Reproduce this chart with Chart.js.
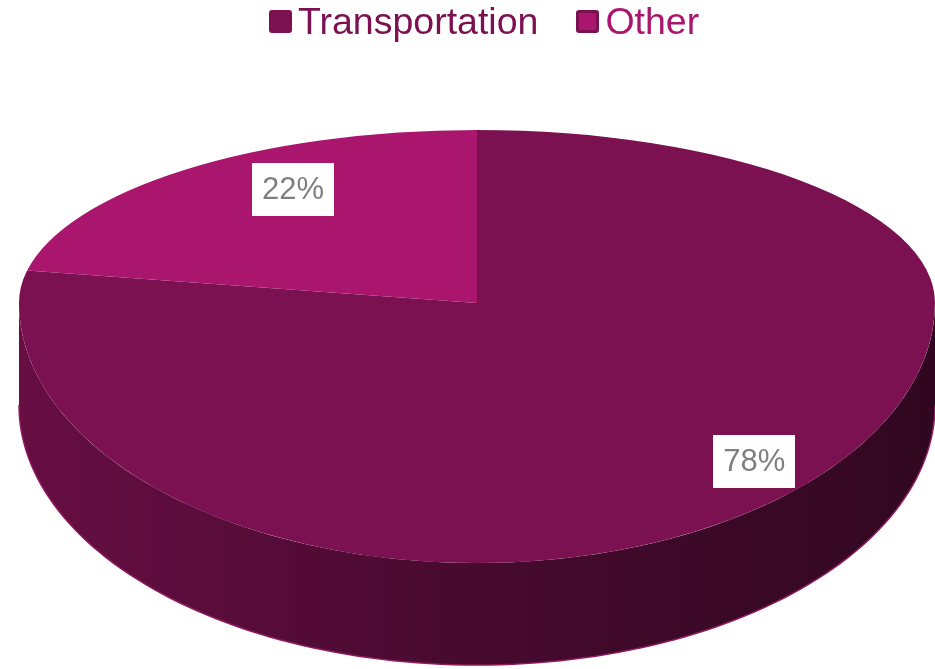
<!DOCTYPE html>
<html>
<head>
<meta charset="utf-8">
<script src="https://cdn.jsdelivr.net/npm/chart.js@4.4.1/dist/chart.umd.min.js"></script>
<style>
  html, body { margin: 0; padding: 0; background: #ffffff; }
  #wrap { position: relative; width: 935px; height: 669px; overflow: hidden; }
  #legend {
    position: absolute; top: 3px; left: 269px; height: 36px;
    display: flex; align-items: center;
    font-family: "Liberation Sans", Arial, sans-serif; font-size: 37.5px; line-height: 36px;
  }
  .item { display: flex; align-items: center; margin-right: 38px; white-space: nowrap; }
  .swatch { width: 23px; height: 23px; box-sizing: border-box; border-radius: 3px; margin-right: 6px; }
</style>
</head>
<body>
<div id="wrap">
  <canvas id="pie" width="935" height="669"></canvas>
  <div id="legend"></div>
</div>
<script>
/* 3D-looking pie: Transportation vs Other */

const categories = ['Transportation', 'Other'];
const shares = [78, 22];

// styling only
const sliceColors = ['#7B1150', '#AA166E'];
const legendBorders = ['#7B1150', '#7B1150'];
const labelPlace = [[0.95, 0.79], [0.63, 0.85]]; // radial fractions (x, y) for the % boxes
const sideShade = [0.84, 0.58, 0.40];            // left / middle / right darkening of the side wall

function shade(hex, k) {
  const n = parseInt(hex.slice(1), 16);
  const r = Math.round(((n >> 16) & 255) * k);
  const g = Math.round(((n >> 8) & 255) * k);
  const b = Math.round((n & 255) * k);
  return `rgb(${r},${g},${b})`;
}

// Build the HTML legend
const legendEl = document.getElementById('legend');
categories.forEach((name, i) => {
  const item = document.createElement('div');
  item.className = 'item';
  const sw = document.createElement('span');
  sw.className = 'swatch';
  sw.style.background = sliceColors[i];
  sw.style.border = `3px solid ${legendBorders[i]}`;
  const txt = document.createElement('span');
  txt.textContent = name;
  txt.style.color = sliceColors[i];
  item.appendChild(sw);
  item.appendChild(txt);
  legendEl.appendChild(item);
});

// Ellipse geometry derived from the chart area
function geometry(chart) {
  const a = chart.chartArea;
  const h = a.bottom - a.top;
  const ryBack = h * 0.3234;
  return {
    cx: (a.left + a.right) / 2,
    cy: a.top + ryBack,
    rx: (a.right - a.left) / 2,
    ryBack: ryBack,
    ryFront: h * 0.486,
    depth: h * 0.1906
  };
}

const pie3d = {
  id: 'pie3d',
  beforeDatasetsDraw(chart) {
    const ctx = chart.ctx;
    const arcs = chart.getDatasetMeta(0).data;
    const g = geometry(chart);
    const W = chart.width, H = chart.height;

    // side wall (only the front half, angles 0..PI, is visible)
    arcs.forEach((arc, i) => {
      [0, 2 * Math.PI].forEach(base => {
        const t0 = Math.max(arc.startAngle, base);
        const t1 = Math.min(arc.endAngle, base + Math.PI);
        if (t1 <= t0) return;
        const grad = ctx.createLinearGradient(g.cx - g.rx, 0, g.cx + g.rx, 0);
        grad.addColorStop(0, shade(sliceColors[i], sideShade[0]));
        grad.addColorStop(0.5, shade(sliceColors[i], sideShade[1]));
        grad.addColorStop(1, shade(sliceColors[i], sideShade[2]));
        const steps = 120;
        ctx.save();
        ctx.beginPath();
        for (let s = 0; s <= steps; s++) {
          const t = t0 + (t1 - t0) * s / steps;
          const x = g.cx + g.rx * Math.cos(t);
          const y = g.cy + g.ryFront * Math.sin(t);
          s === 0 ? ctx.moveTo(x, y) : ctx.lineTo(x, y);
        }
        for (let s = steps; s >= 0; s--) {
          const t = t0 + (t1 - t0) * s / steps;
          ctx.lineTo(g.cx + g.rx * Math.cos(t), g.cy + g.ryFront * Math.sin(t) + g.depth);
        }
        ctx.closePath();
        ctx.fillStyle = grad;
        ctx.fill();
        // thin rim along the bottom edge
        ctx.beginPath();
        for (let s = 0; s <= steps; s++) {
          const t = t0 + (t1 - t0) * s / steps;
          const x = g.cx + g.rx * Math.cos(t);
          const y = g.cy + g.ryFront * Math.sin(t) + g.depth;
          s === 0 ? ctx.moveTo(x, y) : ctx.lineTo(x, y);
        }
        ctx.strokeStyle = '#8E1A5F';
        ctx.lineWidth = 1.5;
        ctx.stroke();
        ctx.restore();
      });
    });

    // top face: back half squeezed more than the front half (fake perspective)
    const halves = [
      { y0: 0, y1: g.cy + 1, ry: g.ryBack },
      { y0: g.cy, y1: H, ry: g.ryFront }
    ];
    halves.forEach(hf => {
      ctx.save();
      ctx.beginPath();
      ctx.rect(0, hf.y0, W, hf.y1 - hf.y0);
      ctx.clip();
      arcs.forEach(arc => {
        ctx.save();
        ctx.translate(g.cx, g.cy);
        ctx.scale(g.rx / arc.outerRadius, hf.ry / arc.outerRadius);
        ctx.translate(-arc.x, -arc.y);
        arc.draw(ctx);
        ctx.restore();
      });
      ctx.restore();
    });
    return false;
  },
  afterDraw(chart) {
    const ctx = chart.ctx;
    const arcs = chart.getDatasetMeta(0).data;
    const g = geometry(chart);
    const total = shares.reduce((s, v) => s + v, 0);
    ctx.save();
    ctx.font = '31px "Liberation Sans", Arial, sans-serif';
    ctx.textAlign = 'center';
    ctx.textBaseline = 'middle';
    arcs.forEach((arc, i) => {
      const m = (arc.startAngle + arc.endAngle) / 2;
      const [fx, fy] = labelPlace[i];
      const sn = Math.sin(m);
      const x = g.cx + g.rx * fx * Math.cos(m);
      const y = g.cy + (sn < 0 ? g.ryBack : g.ryFront) * fy * sn;
      const text = Math.round(shares[i] / total * 100) + '%';
      const bw = 82, bh = 53;
      ctx.fillStyle = '#ffffff';
      ctx.fillRect(Math.round(x - bw / 2), Math.round(y - bh / 2), bw, bh);
      ctx.fillStyle = '#7F7F7F';
      ctx.fillText(text, x, y + 1);
    });
    ctx.restore();
  }
};

new Chart(document.getElementById('pie').getContext('2d'), {
  type: 'pie',
  data: {
    labels: categories,
    datasets: [{
      data: shares,
      backgroundColor: sliceColors,
      borderWidth: 0,
      clip: false
    }]
  },
  options: {
    responsive: false,
    animation: false,
    layout: { padding: { left: 19, right: 0, top: 130, bottom: 4 } },
    plugins: {
      legend: { display: false },
      tooltip: { enabled: false }
    }
  },
  plugins: [pie3d]
});
</script>
</body>
</html>
